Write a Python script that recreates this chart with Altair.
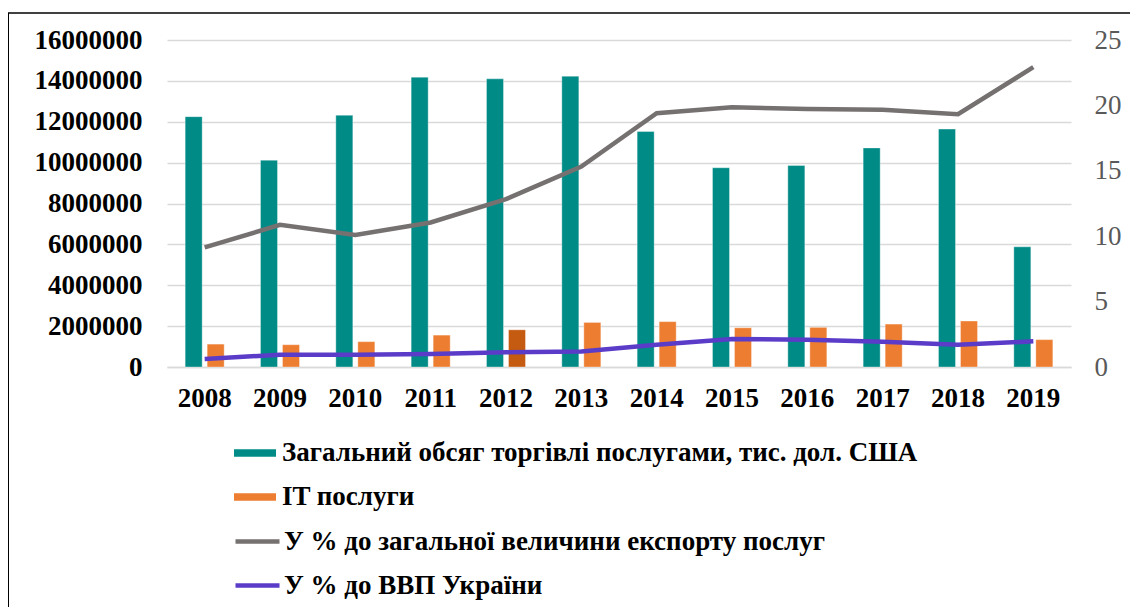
import altair as alt
import pandas as pd

years = ['2008', '2009', '2010', '2011', '2012', '2013', '2014', '2015', '2016', '2017', '2018', '2019']
total_services = [12250000, 10120000, 12320000, 14180000, 14100000, 14230000,
                  11520000, 9750000, 9860000, 10720000, 11640000, 5880000]
it_services = [1120000, 1090000, 1240000, 1560000, 1820000, 2180000,
               2220000, 1920000, 1940000, 2100000, 2250000, 1340000]
share_exports = [9.14, 10.87, 10.10, 11.05, 12.83, 15.33, 19.40, 19.86, 19.73, 19.66, 19.33, 22.92]
share_gdp = [0.61, 0.94, 0.94, 0.99, 1.12, 1.19, 1.70, 2.14, 2.09, 1.93, 1.70, 1.96]

bar_names = ['Загальний обсяг торгівлі послугами, тис. дол. США', 'IT послуги']
line_names = ['У % до загальної величини експорту послуг', 'У % до ВВП України']
bar_colors = ['#008B87', '#ED7D31']
line_colors = ['#767171', '#5A3CC8']

bars_df = pd.DataFrame(
    [{'year': y, 'series': bar_names[0], 'value': v} for y, v in zip(years, total_services)] +
    [{'year': y, 'series': bar_names[1], 'value': v} for y, v in zip(years, it_services)]
)
lines_df = pd.DataFrame(
    [{'year': y, 'series': line_names[0], 'value': v} for y, v in zip(years, share_exports)] +
    [{'year': y, 'series': line_names[1], 'value': v} for y, v in zip(years, share_gdp)]
)

FONT = 'Liberation Serif'
W, H = 904, 327
PAD_L, PAD_T = 159, 32
LEG_FS = 27

x_enc = alt.X('year:N', sort=years, title=None,
              scale=alt.Scale(paddingInner=0, paddingOuter=0),
              axis=alt.Axis(labelAngle=0, labelFont=FONT, labelFontSize=27, labelFontWeight='bold',
                            labelColor='#000000', labelPadding=18, ticks=False,
                            domainColor='#D9D9D9', domainWidth=1.5, grid=False))

bars = alt.Chart(bars_df).mark_bar(stroke='#FFFFFF', strokeOpacity=0.35, strokeWidth=1).encode(
    x=x_enc,
    xOffset=alt.XOffset('series:N', sort=bar_names,
                        scale=alt.Scale(paddingInner=0.227, paddingOuter=0.825)),
    y=alt.Y('value:Q', title=None,
            scale=alt.Scale(domain=[0, 16000000], nice=False),
            axis=alt.Axis(values=[0, 2000000, 4000000, 6000000, 8000000, 10000000,
                                  12000000, 14000000, 16000000],
                          format='d', labelFont=FONT, labelFontSize=27, labelFontWeight='bold',
                          labelColor='#000000', labelPadding=25, ticks=False, domain=False,
                          grid=True, gridColor='#D9D9D9', gridWidth=1.5)),
    fill=alt.condition(
        "datum.year == '2012' && datum.series == 'IT послуги'",
        alt.value('#C55A11'),
        alt.Fill('series:N', sort=bar_names,
                 scale=alt.Scale(domain=bar_names, range=bar_colors),
                 legend=alt.Legend(title=None, orient='none', legendX=67, legendY=392,
                                   direction='vertical', padding=0,
                                   symbolType='M-1,-0.18H1V0.18H-1Z', symbolSize=1764,
                                   symbolStrokeWidth=0, labelOffset=6,
                                   labelFont=FONT, labelFontSize=LEG_FS, labelFontWeight='bold',
                                   labelColor='#000000', labelLimit=900, rowPadding=10))
    ),
)

lines = alt.Chart(lines_df).mark_line(strokeWidth=4.5).encode(
    x=alt.X('year:N', sort=years),
    y=alt.Y('value:Q', title=None,
            scale=alt.Scale(domain=[0, 25], nice=False),
            axis=alt.Axis(orient='right', values=[0, 5, 10, 15, 20, 25],
                          labelFont=FONT, labelFontSize=27, labelColor='#595959',
                          labelPadding=23, ticks=False, domain=False, grid=False)),
    stroke=alt.Stroke('series:N', sort=line_names,
                      scale=alt.Scale(domain=line_names, range=line_colors),
                      legend=alt.Legend(title=None, orient='none', legendX=66, legendY=477,
                                        direction='vertical', padding=0,
                                        symbolType='M-1,0H1', symbolSize=1936,
                                        symbolStrokeWidth=4.5, labelOffset=2,
                                        labelFont=FONT, labelFontSize=LEG_FS, labelFontWeight='bold',
                                        labelColor='#000000', labelLimit=900, rowPadding=6)),
)

frame_top = alt.Chart(pd.DataFrame({'k': [0]})).mark_rule(color='#000000', strokeWidth=1.5).encode(
    x=alt.value(-159), x2=alt.value(W + 80), y=alt.value(-27))
frame_left = alt.Chart(pd.DataFrame({'k': [0]})).mark_rule(color='#000000', strokeWidth=2).encode(
    x=alt.value(-159), y=alt.value(-27), y2=alt.value(H + 240))

chart = alt.layer(bars, lines, frame_top, frame_left).resolve_scale(
    y='independent', fill='independent', stroke='independent'
).properties(
    width=W, height=H,
    autosize=alt.AutoSizeParams(type='none'),
    padding={'left': PAD_L, 'top': PAD_T, 'right': 1122 - PAD_L - W, 'bottom': 600 - PAD_T - H},
    background='#FFFFFF'
).configure_view(stroke=None)

chart.save("out.html", embed_options={"renderer": "svg", "actions": False})
